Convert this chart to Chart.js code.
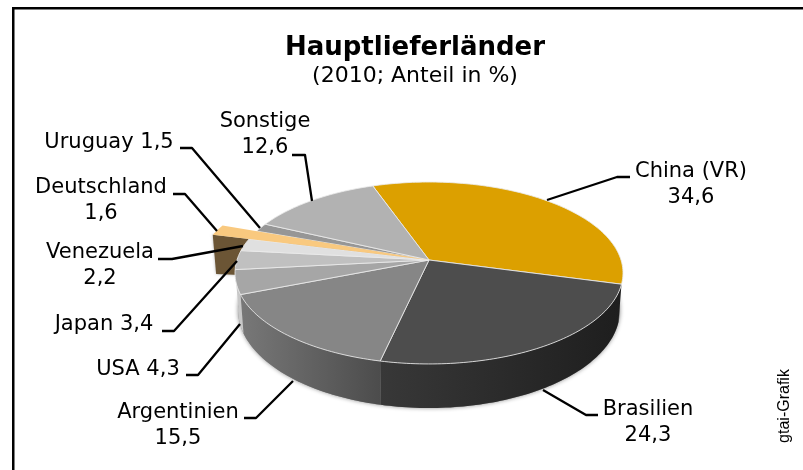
<!DOCTYPE html>
<html>
<head>
<meta charset="utf-8">
<title>Hauptlieferländer</title>
<script src="https://cdn.jsdelivr.net/npm/chart.js@4"></script>
<style>
  html, body { margin: 0; padding: 0; background: #fff; }
  #wrap { position: relative; width: 803px; height: 470px; }
</style>
</head>
<body>
<div id="wrap"><canvas id="chart" width="803" height="470"></canvas></div>
<script>
const countries = ["China (VR)", "Brasilien", "Argentinien", "USA", "Japan", "Venezuela", "Deutschland", "Uruguay", "Sonstige"];
const shares = [34.6, 24.3, 15.5, 4.3, 3.4, 2.2, 1.6, 1.5, 12.6];
const topColors = ["#dca000", "#4d4d4d", "#868686", "#a6a6a6", "#c0c0c0", "#e0e0e0", "#f9c97f", "#969696", "#b2b2b2"];
const sideColors = ["#8a6400", "#1e1e1e", "#6a6a6a", "#c8c8c8", "#a0a0a0", "#b0b0b0", "#6b5535", "#707070", "#808080"];

const FONT = '"DejaVu Sans", Verdana, sans-serif';

// projection of the pie disc: top face and bottom face share the perspective k
const K = 1 / 7;
const TOP_FACE = { cx: 429, cy: 260, sx: 192, sy: 89.1 };
const BOTTOM_FACE = { cx: 429, cy: 296, sx: 189, sy: 96 };
const PULLED = 6; // Deutschland sticks out of the pie
const PULLED_RADIUS = 1.21;

// label text and leader line for each slice
const callouts = [
  { lines: ["China (VR)", "34,6"], x: 691, y: 172, lead: [[630, 177], [617, 177], [547, 200]] },
  { lines: ["Brasilien", "24,3"], x: 648, y: 410, lead: [[598, 415], [586, 415], [543, 390]] },
  { lines: ["Argentinien", "15,5"], x: 178, y: 413, lead: [[244, 418], [256, 418], [293, 381]] },
  { lines: ["USA 4,3"], x: 138, y: 370, lead: [[186, 375], [198, 375], [240, 324]] },
  { lines: ["Japan 3,4"], x: 104, y: 325, lead: [[162, 331], [174, 331], [237, 261]] },
  { lines: ["Venezuela", "2,2"], x: 100, y: 253, lead: [[158, 259], [172, 259], [243, 246]] },
  { lines: ["Deutschland", "1,6"], x: 101, y: 188, lead: [[173, 194], [185, 194], [217, 231]] },
  { lines: ["Uruguay 1,5"], x: 109, y: 143, lead: [[180, 148], [192, 148], [260, 228]] },
  { lines: ["Sonstige", "12,6"], x: 265, y: 122, lead: [[292, 155], [305, 155], [312, 201]] },
];

function project(face, angle, r) {
  const x = r * Math.cos(angle);
  const y = r * Math.sin(angle);
  const w = 1 - K * y;
  return [face.cx + (face.sx * x) / w, face.cy + (face.sy * y) / w];
}

function traceArc(ctx, face, from, to, r) {
  const steps = Math.max(2, Math.ceil(Math.abs(to - from) / 0.02));
  for (let i = 0; i <= steps; i++) {
    const p = project(face, from + ((to - from) * i) / steps, r);
    ctx.lineTo(p[0], p[1]);
  }
}

function drawWall(ctx, arc, color) {
  ctx.beginPath();
  traceArc(ctx, TOP_FACE, arc.startAngle, arc.endAngle, 1);
  traceArc(ctx, BOTTOM_FACE, arc.endAngle, arc.startAngle, 1);
  ctx.closePath();
  ctx.fillStyle = color;
  ctx.fill();
}

function wallGradient(ctx, arc, left, right) {
  const a = project(TOP_FACE, arc.endAngle, 1);
  const b = project(TOP_FACE, arc.startAngle, 1);
  const g = ctx.createLinearGradient(a[0], 0, b[0], 0);
  g.addColorStop(0, left);
  g.addColorStop(1, right);
  return g;
}

function drawFace(ctx, arc, color, r) {
  ctx.beginPath();
  ctx.moveTo(TOP_FACE.cx, TOP_FACE.cy);
  traceArc(ctx, TOP_FACE, arc.startAngle, arc.endAngle, r);
  ctx.closePath();
  ctx.fillStyle = color;
  ctx.fill();
  ctx.strokeStyle = "rgba(235,235,235,0.85)";
  ctx.lineWidth = 1;
  ctx.stroke();
}

const tiltedPie = {
  id: "tiltedPie",
  beforeDraw(chart) {
    const ctx = chart.ctx;
    ctx.save();
    ctx.fillStyle = "#000";
    ctx.fillRect(12, 7, 791, 2.5);
    ctx.fillRect(12, 7, 2.5, 463);
    ctx.restore();
  },
  // the arcs come from the controller, they are only drawn through the projection
  beforeDatasetDraw(chart, args) {
    const ctx = chart.ctx;
    const arcs = args.meta.data;
    const isFront = (a) => Math.sin((a.startAngle + a.endAngle) / 2) > 0;
    ctx.save();

    // soft shadow round the lower rim
    ctx.save();
    ctx.shadowColor = "rgba(0,0,0,0.45)";
    ctx.shadowBlur = 4;
    ctx.beginPath();
    traceArc(ctx, BOTTOM_FACE, 0, Math.PI * 2, 1);
    ctx.closePath();
    ctx.fillStyle = "#888";
    ctx.fill();
    ctx.restore();
    arcs.forEach((a, i) => {
      if (isFront(a)) {
        let fill = sideColors[i];
        if (i === 1) fill = wallGradient(ctx, a, "#383838", "#1e1e1e");
        if (i === 2) fill = wallGradient(ctx, a, "#787878", "#4c4c4c");
        drawWall(ctx, a, fill);
      }
    });

    // cut face below the pulled slice
    const pulled = arcs[PULLED];
    const p1 = project(TOP_FACE, pulled.startAngle, PULLED_RADIUS);
    const p2 = project(TOP_FACE, pulled.startAngle, 1);
    const p3 = project(BOTTOM_FACE, pulled.startAngle, 1);
    const p4 = project(BOTTOM_FACE, pulled.startAngle, PULLED_RADIUS);
    ctx.save();
    ctx.shadowColor = "rgba(0,0,0,0.3)";
    ctx.shadowBlur = 3;
    ctx.beginPath();
    ctx.moveTo(p1[0], p1[1]);
    ctx.lineTo(p2[0], p2[1]);
    ctx.lineTo(p3[0], p3[1] + 2);
    ctx.lineTo(p4[0], p4[1] + 5);
    ctx.closePath();
    ctx.fillStyle = sideColors[PULLED];
    ctx.fill();
    ctx.restore();

    arcs.forEach((a, i) => {
      if (i !== PULLED) drawFace(ctx, a, topColors[i], 1);
    });
    ctx.beginPath();
    ctx.moveTo(TOP_FACE.cx, TOP_FACE.cy);
    traceArc(ctx, TOP_FACE, pulled.startAngle, pulled.endAngle, PULLED_RADIUS);
    ctx.closePath();
    ctx.fillStyle = topColors[PULLED];
    ctx.fill();

    ctx.restore();
    return false;
  },
  afterDraw(chart) {
    const ctx = chart.ctx;
    ctx.save();
    ctx.strokeStyle = "#000";
    ctx.lineWidth = 2.3;
    ctx.lineJoin = "round";
    callouts.forEach((c) => {
      ctx.beginPath();
      c.lead.forEach((p, i) => (i ? ctx.lineTo(p[0], p[1]) : ctx.moveTo(p[0], p[1])));
      ctx.stroke();
    });
    ctx.fillStyle = "#000";
    ctx.font = "21px " + FONT;
    ctx.textAlign = "center";
    ctx.textBaseline = "middle";
    callouts.forEach((c) => {
      c.lines.forEach((line, i) => ctx.fillText(line, c.x, c.y + i * 26));
    });
    ctx.font = '16px "Liberation Sans", Arial, sans-serif';
    ctx.translate(785, 406);
    ctx.rotate(-Math.PI / 2);
    ctx.fillText("gtai-Grafik", 0, 0);
    ctx.restore();
  },
};

new Chart(document.getElementById("chart"), {
  type: "pie",
  data: {
    labels: countries,
    datasets: [{ data: shares, backgroundColor: topColors, borderWidth: 0 }],
  },
  plugins: [tiltedPie],
  options: {
    responsive: false,
    animation: false,
    rotation: -19.4,
    layout: { padding: { left: 27, top: 34 } },
    plugins: {
      legend: { display: false },
      tooltip: { enabled: false },
      title: {
        display: true,
        text: "Hauptlieferländer",
        color: "#000",
        font: { family: FONT, size: 26, weight: "bold", lineHeight: 1.1 },
        padding: { top: 0, bottom: 0 },
      },
      subtitle: {
        display: true,
        text: "(2010; Anteil in %)",
        color: "#000",
        font: { family: FONT, size: 22, weight: "normal" },
        padding: { top: 0, bottom: 0 },
      },
    },
  },
});
</script>
</body>
</html>
